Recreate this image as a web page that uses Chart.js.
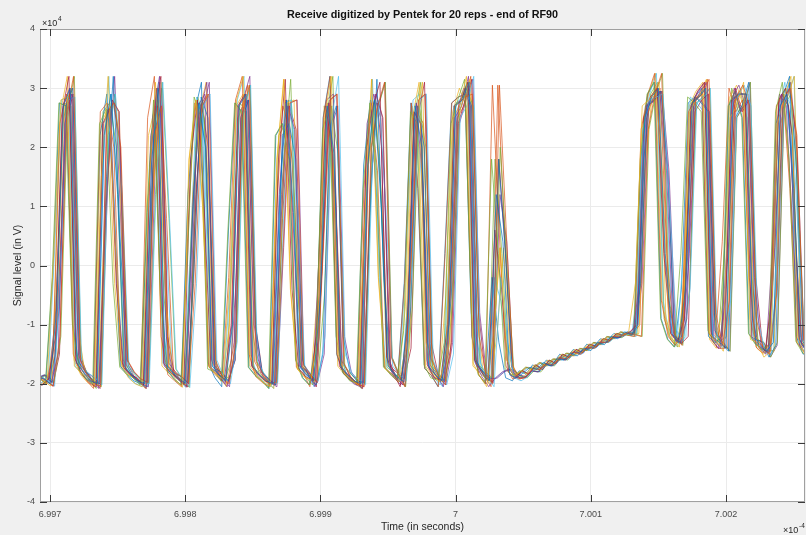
<!DOCTYPE html>
<html><head><meta charset="utf-8">
<script src="https://cdn.jsdelivr.net/npm/chart.js@4.4.1/dist/chart.umd.min.js"></script>
<style>html,body{margin:0;padding:0;background:#f0f0f0;overflow:hidden}</style>
</head><body>
<canvas id="c" width="806" height="535"></canvas>
<script>
// ---------- text ----------
const chartTitle = "Receive digitized by Pentek for 20 reps - end of RF90";
const xAxisLabel = "Time (in seconds)";
const yAxisLabel = "Signal level (in V)";
// ---------- axes (x in units of 1e-4 s, y in units of 1e4) ----------
const xTickValues = [6.997, 6.998, 6.999, 7.000, 7.001, 7.002];
const xTickLabels = ["6.997", "6.998", "6.999", "7", "7.001", "7.002"];
const yTickValues = [-4, -3, -2, -1, 0, 1, 2, 3, 4];
const yTickLabels = ["-4", "-3", "-2", "-1", "0", "1", "2", "3", "4"];
const xRange = [6.996926, 7.002584];
const yRange = [-4, 4];
// ---------- sampling ----------
const startTime = 6.9969;       // first sample, 1e-4 s
const samplePeriod = 0.00005;   // 5 ns in 1e-4 s
const nsToAxis = 0.00001;       // 1 ns in 1e-4 s
const repOffsetNs = [0, 2.4, -2.0, 1.0, -3.4, 3.4, -1.0, 1.8, -2.8, 0.5, -0.5, 3.0, -1.5, 2.0, -3.0, 1.2, -2.2, 2.8, -0.8, 0.3];
// ---------- 20 reps (values x1e4) ----------
const rep01 = [-1.95,-1.9,-2.0,
 -0.7,2.7,3.0,-1.65,-1.8,-1.95,-2.0,
 2.2,2.9,1.2,-1.7,-1.85,-1.95,-2.0,
 1.7,3.0,-1.65,-1.8,-1.9,-2.0,
 0.7,2.75,2.0,-1.7,-1.85,-1.95,
 -1.0,2.7,2.9,-1.7,-1.85,-1.95,-2.0,
 1.2,2.8,0.9,-1.7,-1.85,-1.95,
 -0.5,2.7,1.9,-1.7,-1.85,-1.95,-2.0,
 1.7,2.8,1.0,-1.7,-1.85,-1.95,
 -0.7,2.7,2.0,-1.7,-1.85,-1.95,
 -1.0,2.7,2.8,3.1,-1.6,-1.8,-1.95,
 1.2,0.4,-1.85,-1.9,
 -1.82,-1.72,-1.76,-1.64,-1.7,-1.58,-1.6,-1.48,-1.53,-1.4,-1.44,-1.3,-1.34,-1.2,-1.24,-1.12,-1.18,
 -1.0,2.5,2.85,3.0,0.2,-1.15,-1.3,
 -0.4,2.75,2.85,3.0,-1.2,-1.3,
 -1.4,2.8,2.9,2.9,-1.2,-1.35,-1.45,
 -1.3,2.7,2.9,1.3,-1.3,-1.45,-1.5];
const rep02 = [-1.88,-1.95,-2.04,
 -1.2,2.6,3.2,-1.6,-1.85,-1.98,-2.05,
 2.6,2.75,2.0,-1.6,-1.8,-1.92,-1.98,
 2.2,2.7,-1.7,-1.82,-1.88,-1.98,
 -0.3,2.7,2.9,-1.6,-1.88,-2.0,
 -1.3,2.6,3.05,-1.62,-1.83,-2.0,-1.98,
 0.3,2.75,2.8,-1.68,-1.84,-1.98,
 0.4,2.8,2.9,-1.65,-1.88,-2.0,-2.05,
 2.0,2.7,3.1,-1.55,-1.83,-2.05,
 0.3,2.8,2.9,-1.6,-1.88,-2.02,
 0.2,2.75,2.85,2.9,-1.2,-1.85,-2.0,
 3.05,0.6,-1.7,-1.92,
 -1.88,-1.74,-1.76,-1.66,-1.68,-1.56,-1.58,-1.46,-1.5,-1.38,-1.4,-1.3,-1.3,-1.2,-1.2,-1.14,-1.17,
 -1.2,2.3,2.9,3.25,-0.6,-1.2,-1.35,
 0.6,2.8,2.9,3.15,-0.8,-1.35,
 -0.6,2.85,3.05,2.7,-0.9,-1.4,-1.5,
 -0.5,2.8,3.0,2.2,-1.25,-1.4,-1.55];
const rep03 = [-2.0,-2.02,-1.92,
 0.3,2.8,2.85,-1.7,-1.82,-1.9,-2.02,
 1.5,3.2,0.5,-1.68,-1.9,-2.0,-2.05,
 1.2,3.1,0.8,-1.75,-1.93,-2.06,
 1.8,2.8,1.0,-1.72,-1.84,-1.92,
 -0.2,2.8,3.2,-1.5,-1.88,-1.98,-2.05,
 1.8,3.15,-0.4,-1.75,-1.88,-1.94,
 -1.2,2.5,3.2,-1.5,-1.83,-1.93,-2.02,
 0.9,3.15,-0.2,-1.74,-1.87,-1.97,
 -1.4,2.5,3.1,-1.3,-1.83,-1.97,
 -1.5,2.5,2.7,3.2,-1.65,-1.88,-2.05,
 -1.2,0.3,-1.6,-1.88,
 -1.78,-1.84,-1.68,-1.76,-1.6,-1.66,-1.5,-1.56,-1.42,-1.48,-1.33,-1.38,-1.24,-1.27,-1.15,-1.19,-1.12,
 -0.3,2.7,2.8,2.95,1.6,-1.18,-1.32,
 -1.2,2.6,2.8,2.9,-1.15,-1.28,
 -1.45,2.5,2.7,3.1,-1.25,-1.3,-1.55,
 -1.45,2.4,2.85,3.2,-1.2,-1.5,-1.45];
const rep04 = [-1.9,-1.85,-1.98,
 -1.5,2.4,2.9,-1.5,-1.8,-1.95,-2.08,
 0.8,2.8,2.6,-1.75,-1.87,-1.96,-2.08,
 2.5,3.2,-1.2,-1.85,-1.95,-2.05,
 1.2,2.6,3.1,-1.65,-1.9,-2.05,
 -1.6,2.5,2.8,-1.0,-1.8,-1.92,-2.02,
 0.8,2.7,2.3,-1.72,-1.82,-2.05,
 -0.1,2.75,1.2,-1.75,-1.86,-1.97,-2.08,
 2.4,2.9,2.5,-1.62,-1.9,-2.02,
 -0.3,2.75,1.3,-1.74,-1.86,-2.05,
 -0.5,2.6,3.0,2.7,-1.7,-1.82,-1.92,
 -1.9,-1.8,-1.75,-1.9,
 -1.9,-1.78,-1.8,-1.66,-1.7,-1.56,-1.6,-1.47,-1.47,-1.41,-1.38,-1.31,-1.3,-1.21,-1.22,-1.14,-1.16,
 -0.3,2.7,2.8,2.95,1.6,-1.18,-1.32,
 -0.9,2.7,2.95,3.1,-1.25,-1.4,
 0.4,3.0,2.6,2.8,-0.2,-1.38,-1.48,
 0.3,2.9,2.7,0.5,-1.35,-1.42,-1.5];
const rep05 = [-1.95,-1.9,-2.0,
 -0.2,2.75,2.7,-1.0,-1.78,-1.92,-2.0,
 2.4,2.65,-0.3,-1.72,-1.84,-1.9,-2.02,
 0.9,2.8,-0.5,-1.78,-1.92,-2.02,
 0.1,2.85,2.5,-1.75,-1.8,-1.96,
 0.6,2.75,2.6,-1.72,-1.86,-1.95,-2.08,
 2.2,2.4,1.8,-1.6,-1.9,-2.02,
 -1.5,2.3,2.7,-1.2,-1.8,-1.95,-1.98,
 1.3,2.75,1.6,-1.72,-1.82,-1.92,
 -1.1,2.6,2.4,-1.68,-1.9,-1.94,
 -1.3,2.4,2.8,3.15,-0.8,-1.84,-1.98,
 1.8,0.2,-1.75,-1.85,
 -1.82,-1.72,-1.76,-1.64,-1.7,-1.58,-1.6,-1.48,-1.53,-1.4,-1.44,-1.3,-1.34,-1.2,-1.24,-1.12,-1.18,
 -1.15,1.8,2.9,3.1,-0.9,-1.25,-1.38,
 0.2,2.85,2.75,2.6,-1.1,-1.32,
 -1.2,2.7,2.95,2.5,-1.15,-1.33,-1.42,
 -1.35,2.6,3.1,1.8,-1.28,-1.48,-1.52];
const rep06 = [-1.88,-1.95,-2.04,
 0.3,2.8,2.85,-1.7,-1.82,-1.9,-2.02,
 2.2,2.9,1.2,-1.7,-1.85,-1.95,-2.0,
 1.2,3.1,0.8,-1.75,-1.93,-2.06,
 -0.3,2.7,2.9,-1.6,-1.88,-2.0,
 -1.3,2.6,3.05,-1.62,-1.83,-2.0,-1.98,
 1.2,2.8,0.9,-1.7,-1.85,-1.95,
 -1.2,2.5,3.2,-1.5,-1.83,-1.93,-2.02,
 1.7,2.8,1.0,-1.7,-1.85,-1.95,
 0.3,2.8,2.9,-1.6,-1.88,-2.02,
 -1.5,2.5,2.7,3.2,-1.65,-1.88,-2.05,
 -0.2,-1.3,-1.9,-1.95,
 -1.88,-1.74,-1.76,-1.66,-1.68,-1.56,-1.58,-1.46,-1.5,-1.38,-1.4,-1.3,-1.3,-1.2,-1.2,-1.14,-1.17,
 2.3,2.8,2.85,2.9,1.0,-1.1,-1.28,
 -0.4,2.75,2.85,3.0,-1.2,-1.3,
 -0.6,2.85,3.05,2.7,-0.9,-1.4,-1.5,
 0.3,2.9,2.7,0.5,-1.35,-1.42,-1.5];
const rep07 = [-2.0,-2.02,-1.92,
 -1.2,2.6,3.2,-1.6,-1.85,-1.98,-2.05,
 2.4,2.65,-0.3,-1.72,-1.84,-1.9,-2.02,
 1.7,3.0,-1.65,-1.8,-1.9,-2.0,
 1.8,2.8,1.0,-1.72,-1.84,-1.92,
 -1.0,2.7,2.9,-1.7,-1.85,-1.95,-2.0,
 1.8,3.15,-0.4,-1.75,-1.88,-1.94,
 -0.5,2.7,1.9,-1.7,-1.85,-1.95,-2.0,
 2.0,2.7,3.1,-1.55,-1.83,-2.05,
 -1.1,2.6,2.4,-1.68,-1.9,-1.94,
 -1.0,2.7,2.8,3.1,-1.6,-1.8,-1.95,
 0.6,-0.4,-1.8,-1.92,
 -1.78,-1.84,-1.68,-1.76,-1.6,-1.66,-1.5,-1.56,-1.42,-1.48,-1.33,-1.38,-1.24,-1.27,-1.15,-1.19,-1.12,
 -1.0,2.5,2.85,3.0,0.2,-1.15,-1.3,
 -0.9,2.7,2.95,3.1,-1.25,-1.4,
 -1.4,2.8,2.9,2.9,-1.2,-1.35,-1.45,
 -0.5,2.8,3.0,2.2,-1.25,-1.4,-1.55];
const rep08 = [-1.9,-1.85,-1.98,
 -0.7,2.7,3.0,-1.65,-1.8,-1.95,-2.0,
 1.5,3.2,0.5,-1.68,-1.9,-2.0,-2.05,
 2.2,2.7,-1.7,-1.82,-1.88,-1.98,
 0.1,2.85,2.5,-1.75,-1.8,-1.96,
 -1.6,2.5,2.8,-1.0,-1.8,-1.92,-2.02,
 2.2,2.4,1.8,-1.6,-1.9,-2.02,
 -1.5,2.3,2.7,-1.2,-1.8,-1.95,-1.98,
 0.9,3.15,-0.2,-1.74,-1.87,-1.97,
 -0.7,2.7,2.0,-1.7,-1.85,-1.95,
 -0.5,2.6,3.0,2.7,-1.7,-1.82,-1.92,
 1.8,0.2,-1.75,-1.85,
 -1.9,-1.78,-1.8,-1.66,-1.7,-1.56,-1.6,-1.47,-1.47,-1.41,-1.38,-1.31,-1.3,-1.21,-1.22,-1.14,-1.16,
 -0.3,2.7,2.8,2.95,1.6,-1.18,-1.32,
 0.2,2.85,2.75,2.6,-1.1,-1.32,
 -1.45,2.5,2.7,3.1,-1.25,-1.3,-1.55,
 -1.35,2.6,3.1,1.8,-1.28,-1.48,-1.52];
const rep09 = [-1.95,-1.9,-2.0,
 -1.5,2.4,2.9,-1.5,-1.8,-1.95,-2.08,
 2.6,2.75,2.0,-1.6,-1.8,-1.92,-1.98,
 2.5,3.2,-1.2,-1.85,-1.95,-2.05,
 0.7,2.75,2.0,-1.7,-1.85,-1.95,
 -0.2,2.8,3.2,-1.5,-1.88,-1.98,-2.05,
 0.8,2.7,2.3,-1.72,-1.82,-2.05,
 -1.2,2.5,3.2,-1.5,-1.83,-1.93,-2.02,
 1.3,2.75,1.6,-1.72,-1.82,-1.92,
 -0.3,2.75,1.3,-1.74,-1.86,-2.05,
 0.2,2.75,2.85,2.9,-1.2,-1.85,-2.0,
 3.05,0.6,-1.7,-1.92,
 -1.82,-1.72,-1.76,-1.64,-1.7,-1.58,-1.6,-1.48,-1.53,-1.4,-1.44,-1.3,-1.34,-1.2,-1.24,-1.12,-1.18,
 -1.2,2.3,2.9,3.25,-0.6,-1.2,-1.35,
 -1.2,2.6,2.8,2.9,-1.15,-1.28,
 0.4,3.0,2.6,2.8,-0.2,-1.38,-1.48,
 -1.3,2.7,2.9,1.3,-1.3,-1.45,-1.5];
const rep10 = [-1.88,-1.95,-2.04,
 -0.2,2.75,2.7,-1.0,-1.78,-1.92,-2.0,
 0.8,2.8,2.6,-1.75,-1.87,-1.96,-2.08,
 0.9,2.8,-0.5,-1.78,-1.92,-2.02,
 1.2,2.6,3.1,-1.65,-1.9,-2.05,
 0.6,2.75,2.6,-1.72,-1.86,-1.95,-2.08,
 0.3,2.75,2.8,-1.68,-1.84,-1.98,
 -0.1,2.75,1.2,-1.75,-1.86,-1.97,-2.08,
 1.7,2.8,1.0,-1.7,-1.85,-1.95,
 -1.4,2.5,3.1,-1.3,-1.83,-1.97,
 -1.3,2.4,2.8,3.15,-0.8,-1.84,-1.98,
 -1.2,0.3,-1.6,-1.88,
 -1.88,-1.74,-1.76,-1.66,-1.68,-1.56,-1.58,-1.46,-1.5,-1.38,-1.4,-1.3,-1.3,-1.2,-1.2,-1.14,-1.17,
 -1.15,1.8,2.9,3.1,-0.9,-1.25,-1.38,
 0.6,2.8,2.9,3.15,-0.8,-1.35,
 -1.2,2.7,2.95,2.5,-1.15,-1.33,-1.42,
 -1.45,2.4,2.85,3.2,-1.2,-1.5,-1.45];
const rep11 = [-2.0,-2.02,-1.92,
 -0.7,2.7,3.0,-1.65,-1.8,-1.95,-2.0,
 2.4,2.65,-0.3,-1.72,-1.84,-1.9,-2.02,
 2.2,2.7,-1.7,-1.82,-1.88,-1.98,
 -0.3,2.7,2.9,-1.6,-1.88,-2.0,
 -1.0,2.7,2.9,-1.7,-1.85,-1.95,-2.0,
 1.2,2.8,0.9,-1.7,-1.85,-1.95,
 0.4,2.8,2.9,-1.65,-1.88,-2.0,-2.05,
 2.4,2.9,2.5,-1.62,-1.9,-2.02,
 -1.1,2.6,2.4,-1.68,-1.9,-1.94,
 -1.5,2.5,2.7,3.2,-1.65,-1.88,-2.05,
 -1.9,-1.8,-1.75,-1.9,
 -1.78,-1.84,-1.68,-1.76,-1.6,-1.66,-1.5,-1.56,-1.42,-1.48,-1.33,-1.38,-1.24,-1.27,-1.15,-1.19,-1.12,
 -1.0,2.5,2.85,3.0,0.2,-1.15,-1.3,
 -0.9,2.7,2.95,3.1,-1.25,-1.4,
 -0.6,2.85,3.05,2.7,-0.9,-1.4,-1.5,
 0.3,2.9,2.7,0.5,-1.35,-1.42,-1.5];
const rep12 = [-1.9,-1.85,-1.98,
 -1.2,2.6,3.2,-1.6,-1.85,-1.98,-2.05,
 2.2,2.9,1.2,-1.7,-1.85,-1.95,-2.0,
 1.2,3.1,0.8,-1.75,-1.93,-2.06,
 1.8,2.8,1.0,-1.72,-1.84,-1.92,
 -1.3,2.6,3.05,-1.62,-1.83,-2.0,-1.98,
 1.8,3.15,-0.4,-1.75,-1.88,-1.94,
 -0.5,2.7,1.9,-1.7,-1.85,-1.95,-2.0,
 2.0,2.7,3.1,-1.55,-1.83,-2.05,
 -0.7,2.7,2.0,-1.7,-1.85,-1.95,
 -0.5,2.6,3.0,2.7,-1.7,-1.82,-1.92,
 2.0,0.0,-1.75,-1.88,
 -1.9,-1.78,-1.8,-1.66,-1.7,-1.56,-1.6,-1.47,-1.47,-1.41,-1.38,-1.31,-1.3,-1.21,-1.22,-1.14,-1.16,
 -1.2,2.3,2.9,3.25,-0.6,-1.2,-1.35,
 -0.4,2.75,2.85,3.0,-1.2,-1.3,
 -1.45,2.5,2.7,3.1,-1.25,-1.3,-1.55,
 -1.3,2.7,2.9,1.3,-1.3,-1.45,-1.5];
const rep13 = [-1.95,-1.9,-2.0,
 0.3,2.8,2.85,-1.7,-1.82,-1.9,-2.02,
 1.5,3.2,0.5,-1.68,-1.9,-2.0,-2.05,
 1.7,3.0,-1.65,-1.8,-1.9,-2.0,
 0.1,2.85,2.5,-1.75,-1.8,-1.96,
 -0.2,2.8,3.2,-1.5,-1.88,-1.98,-2.05,
 0.3,2.75,2.8,-1.68,-1.84,-1.98,
 -1.5,2.3,2.7,-1.2,-1.8,-1.95,-1.98,
 0.9,3.15,-0.2,-1.74,-1.87,-1.97,
 0.3,2.8,2.9,-1.6,-1.88,-2.02,
 -1.0,2.7,2.8,3.1,-1.6,-1.8,-1.95,
 -0.2,-0.6,-1.65,-1.9,
 -1.82,-1.72,-1.76,-1.64,-1.7,-1.58,-1.6,-1.48,-1.53,-1.4,-1.44,-1.3,-1.34,-1.2,-1.24,-1.12,-1.18,
 -1.2,2.3,2.9,3.25,-0.6,-1.2,-1.35,
 0.2,2.85,2.75,2.6,-1.1,-1.32,
 -1.4,2.8,2.9,2.9,-1.2,-1.35,-1.45,
 -1.35,2.6,3.1,1.8,-1.28,-1.48,-1.52];
const rep14 = [-1.88,-1.95,-2.04,
 -1.5,2.4,2.9,-1.5,-1.8,-1.95,-2.08,
 2.6,2.75,2.0,-1.6,-1.8,-1.92,-1.98,
 2.5,3.2,-1.2,-1.85,-1.95,-2.05,
 0.7,2.75,2.0,-1.7,-1.85,-1.95,
 -1.6,2.5,2.8,-1.0,-1.8,-1.92,-2.02,
 0.8,2.7,2.3,-1.72,-1.82,-2.05,
 0.4,2.8,2.9,-1.65,-1.88,-2.0,-2.05,
 1.3,2.75,1.6,-1.72,-1.82,-1.92,
 -1.4,2.5,3.1,-1.3,-1.83,-1.97,
 -1.3,2.4,2.8,3.15,-0.8,-1.84,-1.98,
 1.8,0.2,-1.75,-1.85,
 -1.88,-1.74,-1.76,-1.66,-1.68,-1.56,-1.58,-1.46,-1.5,-1.38,-1.4,-1.3,-1.3,-1.2,-1.2,-1.14,-1.17,
 -0.3,2.7,2.8,2.95,1.6,-1.18,-1.32,
 -1.2,2.6,2.8,2.9,-1.15,-1.28,
 0.4,3.0,2.6,2.8,-0.2,-1.38,-1.48,
 -0.5,2.8,3.0,2.2,-1.25,-1.4,-1.55];
const rep15 = [-2.0,-2.02,-1.92,
 -0.2,2.75,2.7,-1.0,-1.78,-1.92,-2.0,
 2.2,2.9,1.2,-1.7,-1.85,-1.95,-2.0,
 0.9,2.8,-0.5,-1.78,-1.92,-2.02,
 1.2,2.6,3.1,-1.65,-1.9,-2.05,
 0.6,2.75,2.6,-1.72,-1.86,-1.95,-2.08,
 2.2,2.4,1.8,-1.6,-1.9,-2.02,
 -1.2,2.5,3.2,-1.5,-1.83,-1.93,-2.02,
 1.7,2.8,1.0,-1.7,-1.85,-1.95,
 -0.3,2.75,1.3,-1.74,-1.86,-2.05,
 0.2,2.75,2.85,2.9,-1.2,-1.85,-2.0,
 -0.2,-1.3,-1.9,-1.95,
 -1.78,-1.84,-1.68,-1.76,-1.6,-1.66,-1.5,-1.56,-1.42,-1.48,-1.33,-1.38,-1.24,-1.27,-1.15,-1.19,-1.12,
 -1.15,1.8,2.9,3.1,-0.9,-1.25,-1.38,
 -0.4,2.75,2.85,3.0,-1.2,-1.3,
 -1.2,2.7,2.95,2.5,-1.15,-1.33,-1.42,
 -1.45,2.4,2.85,3.2,-1.2,-1.5,-1.45];
const rep16 = [-1.9,-1.85,-1.98,
 -0.7,2.7,3.0,-1.65,-1.8,-1.95,-2.0,
 0.8,2.8,2.6,-1.75,-1.87,-1.96,-2.08,
 1.2,3.1,0.8,-1.75,-1.93,-2.06,
 -0.3,2.7,2.9,-1.6,-1.88,-2.0,
 -1.3,2.6,3.05,-1.62,-1.83,-2.0,-1.98,
 1.2,2.8,0.9,-1.7,-1.85,-1.95,
 -0.1,2.75,1.2,-1.75,-1.86,-1.97,-2.08,
 2.4,2.9,2.5,-1.62,-1.9,-2.02,
 -1.1,2.6,2.4,-1.68,-1.9,-1.94,
 -1.5,2.5,2.7,3.2,-1.65,-1.88,-2.05,
 3.05,0.6,-1.7,-1.92,
 -1.9,-1.78,-1.8,-1.66,-1.7,-1.56,-1.6,-1.47,-1.47,-1.41,-1.38,-1.31,-1.3,-1.21,-1.22,-1.14,-1.16,
 -1.0,2.5,2.85,3.0,0.2,-1.15,-1.3,
 0.6,2.8,2.9,3.15,-0.8,-1.35,
 -1.4,2.8,2.9,2.9,-1.2,-1.35,-1.45,
 0.3,2.9,2.7,0.5,-1.35,-1.42,-1.5];
const rep17 = [-1.95,-1.9,-2.0,
 -1.2,2.6,3.2,-1.6,-1.85,-1.98,-2.05,
 2.4,2.65,-0.3,-1.72,-1.84,-1.9,-2.02,
 2.2,2.7,-1.7,-1.82,-1.88,-1.98,
 1.8,2.8,1.0,-1.72,-1.84,-1.92,
 -1.0,2.7,2.9,-1.7,-1.85,-1.95,-2.0,
 1.8,3.15,-0.4,-1.75,-1.88,-1.94,
 -0.5,2.7,1.9,-1.7,-1.85,-1.95,-2.0,
 0.9,3.15,-0.2,-1.74,-1.87,-1.97,
 -0.7,2.7,2.0,-1.7,-1.85,-1.95,
 -0.5,2.6,3.0,2.7,-1.7,-1.82,-1.92,
 -1.2,0.3,-1.6,-1.88,
 -1.82,-1.72,-1.76,-1.64,-1.7,-1.58,-1.6,-1.48,-1.53,-1.4,-1.44,-1.3,-1.34,-1.2,-1.24,-1.12,-1.18,
 -1.2,2.3,2.9,3.25,-0.6,-1.2,-1.35,
 -0.9,2.7,2.95,3.1,-1.25,-1.4,
 -0.6,2.85,3.05,2.7,-0.9,-1.4,-1.5,
 -1.3,2.7,2.9,1.3,-1.3,-1.45,-1.5];
const rep18 = [-1.88,-1.95,-2.04,
 0.3,2.8,2.85,-1.7,-1.82,-1.9,-2.02,
 1.5,3.2,0.5,-1.68,-1.9,-2.0,-2.05,
 1.7,3.0,-1.65,-1.8,-1.9,-2.0,
 1.2,2.6,3.1,-1.65,-1.9,-2.05,
 -0.2,2.8,3.2,-1.5,-1.88,-1.98,-2.05,
 0.3,2.75,2.8,-1.68,-1.84,-1.98,
 -1.5,2.3,2.7,-1.2,-1.8,-1.95,-1.98,
 2.0,2.7,3.1,-1.55,-1.83,-2.05,
 0.3,2.8,2.9,-1.6,-1.88,-2.02,
 -1.3,2.4,2.8,3.15,-0.8,-1.84,-1.98,
 1.2,0.4,-1.85,-1.9,
 -1.88,-1.74,-1.76,-1.66,-1.68,-1.56,-1.58,-1.46,-1.5,-1.38,-1.4,-1.3,-1.3,-1.2,-1.2,-1.14,-1.17,
 -0.3,2.7,2.8,2.95,1.6,-1.18,-1.32,
 0.2,2.85,2.75,2.6,-1.1,-1.32,
 -1.45,2.5,2.7,3.1,-1.25,-1.3,-1.55,
 -1.35,2.6,3.1,1.8,-1.28,-1.48,-1.52];
const rep19 = [-2.0,-2.02,-1.92,
 -1.5,2.4,2.9,-1.5,-1.8,-1.95,-2.08,
 2.6,2.75,2.0,-1.6,-1.8,-1.92,-1.98,
 0.9,2.8,-0.5,-1.78,-1.92,-2.02,
 0.1,2.85,2.5,-1.75,-1.8,-1.96,
 -1.6,2.5,2.8,-1.0,-1.8,-1.92,-2.02,
 2.2,2.4,1.8,-1.6,-1.9,-2.02,
 -1.2,2.5,3.2,-1.5,-1.83,-1.93,-2.02,
 1.3,2.75,1.6,-1.72,-1.82,-1.92,
 -1.4,2.5,3.1,-1.3,-1.83,-1.97,
 -1.0,2.7,2.8,3.1,-1.6,-1.8,-1.95,
 1.8,0.2,-1.75,-1.85,
 -1.78,-1.84,-1.68,-1.76,-1.6,-1.66,-1.5,-1.56,-1.42,-1.48,-1.33,-1.38,-1.24,-1.27,-1.15,-1.19,-1.12,
 -1.15,1.8,2.9,3.1,-0.9,-1.25,-1.38,
 -0.4,2.75,2.85,3.0,-1.2,-1.3,
 0.4,3.0,2.6,2.8,-0.2,-1.38,-1.48,
 -0.5,2.8,3.0,2.2,-1.25,-1.4,-1.55];
const rep20 = [-1.9,-1.85,-1.98,
 -0.2,2.75,2.7,-1.0,-1.78,-1.92,-2.0,
 2.2,2.9,1.2,-1.7,-1.85,-1.95,-2.0,
 1.2,3.1,0.8,-1.75,-1.93,-2.06,
 0.7,2.75,2.0,-1.7,-1.85,-1.95,
 0.6,2.75,2.6,-1.72,-1.86,-1.95,-2.08,
 0.8,2.7,2.3,-1.72,-1.82,-2.05,
 -0.1,2.75,1.2,-1.75,-1.86,-1.97,-2.08,
 1.7,2.8,1.0,-1.7,-1.85,-1.95,
 -0.3,2.75,1.3,-1.74,-1.86,-2.05,
 0.2,2.75,2.85,2.9,-1.2,-1.85,-2.0,
 -1.9,-1.8,-1.75,-1.9,
 -1.9,-1.78,-1.8,-1.66,-1.7,-1.56,-1.6,-1.47,-1.47,-1.41,-1.38,-1.31,-1.3,-1.21,-1.22,-1.14,-1.16,
 -0.3,2.7,2.8,2.95,1.6,-1.18,-1.32,
 -1.2,2.6,2.8,2.9,-1.15,-1.28,
 -1.2,2.7,2.95,2.5,-1.15,-1.33,-1.42,
 -1.45,2.4,2.85,3.2,-1.2,-1.5,-1.45];
const reps = [rep01,rep02,rep03,rep04,rep05,rep06,rep07,rep08,rep09,rep10,rep11,rep12,rep13,rep14,rep15,rep16,rep17,rep18,rep19,rep20];
// MATLAB default line colour order
const lineColors = ["#0072BD","#D95319","#EDB120","#7E2F8E","#77AC30","#4DBEEE","#A2142F"];

const datasets = reps.map((ys, k) => ({
  label: "rep " + (k + 1),
  data: ys.map((y, i) => ({ x: startTime + i * samplePeriod + repOffsetNs[k] * nsToAxis, y: y })),
  borderColor: lineColors[k % lineColors.length],
  backgroundColor: lineColors[k % lineColors.length],
  borderWidth: 0.7,
  pointRadius: 0,
  tension: 0,
  fill: false
}));

const FONT = "'Liberation Sans', Arial, sans-serif";

const decor = {
  id: 'decor',
  beforeDraw(chart) {
    const { ctx, chartArea: a } = chart;
    ctx.save();
    ctx.fillStyle = '#f0f0f0';
    ctx.fillRect(0, 0, chart.width, chart.height);
    ctx.fillStyle = '#ffffff';
    ctx.fillRect(a.left, a.top, a.right - a.left, a.bottom - a.top);
    ctx.restore();
  },
  afterDraw(chart) {
    const { ctx, chartArea: a, scales } = chart;
    ctx.save();
    ctx.strokeStyle = '#a0a0a0';
    ctx.lineWidth = 1;
    ctx.strokeRect(a.left + 0.5, a.top + 0.5, a.right - a.left - 1, a.bottom - a.top - 1);
    ctx.strokeStyle = '#3a3a3a';
    ctx.beginPath();
    xTickValues.forEach(v => {
      const x = Math.round(scales.x.getPixelForValue(v)) + 0.5;
      ctx.moveTo(x, a.bottom); ctx.lineTo(x, a.bottom - 7);
      ctx.moveTo(x, a.top); ctx.lineTo(x, a.top + 7);
    });
    yTickValues.forEach(v => {
      const y = Math.round(scales.y.getPixelForValue(v)) + 0.5;
      ctx.moveTo(a.left, y); ctx.lineTo(a.left + 7, y);
      ctx.moveTo(a.right, y); ctx.lineTo(a.right - 7, y);
    });
    ctx.stroke();
    ctx.fillStyle = '#111111';
    ctx.font = 'bold 10.8px ' + FONT;
    ctx.textAlign = 'center';
    ctx.textBaseline = 'middle';
    ctx.fillText(chartTitle, (a.left + a.right) / 2, 15);
    ctx.fillStyle = '#262626';
    ctx.font = '10.5px ' + FONT;
    ctx.fillText(xAxisLabel, (a.left + a.right) / 2, 527);
    ctx.save();
    ctx.translate(18, (a.top + a.bottom) / 2);
    ctx.rotate(-Math.PI / 2);
    ctx.fillText(yAxisLabel, 0, 0);
    ctx.restore();
    ctx.textAlign = 'left';
    ctx.textBaseline = 'alphabetic';
    ctx.font = '9px ' + FONT;
    ctx.fillText('\u00d710', a.left + 2, 26);
    ctx.font = '6.5px ' + FONT;
    ctx.fillText('4', a.left + 18, 21);
    ctx.font = '9px ' + FONT;
    ctx.fillText('\u00d710', 783, 533);
    ctx.font = '6.5px ' + FONT;
    ctx.fillText('-4', 799, 528);
    ctx.restore();
  }
};

new Chart(document.getElementById('c'), {
  type: 'line',
  data: { datasets },
  plugins: [decor],
  options: {
    responsive: false,
    animation: false,
    devicePixelRatio: 1,
    layout: { padding: { top: 29, right: 1, left: 0, bottom: 0 } },
    plugins: { legend: { display: false }, tooltip: { enabled: false }, title: { display: false } },
    scales: {
      x: {
        type: 'linear', min: xRange[0], max: xRange[1],
        afterBuildTicks: s => { s.ticks = xTickValues.map(v => ({ value: v })); },
        afterFit: s => { s.height = 33; },
        ticks: { autoSkip: false, maxRotation: 0, padding: 7, color: '#4a4a4a',
                 font: { family: FONT, size: 9 }, callback: (v, i) => xTickLabels[i] },
        grid: { color: '#ebebeb', drawTicks: false },
        border: { display: false }
      },
      y: {
        type: 'linear', min: yRange[0], max: yRange[1],
        afterBuildTicks: s => { s.ticks = yTickValues.map(v => ({ value: v })); },
        afterFit: s => { s.width = 40; },
        ticks: { autoSkip: false, padding: 5, color: '#4a4a4a',
                 font: { family: FONT, size: 9 }, callback: (v, i) => yTickLabels[i] },
        grid: { color: '#ebebeb', drawTicks: false },
        border: { display: false }
      }
    }
  }
});
</script>
</body></html>
